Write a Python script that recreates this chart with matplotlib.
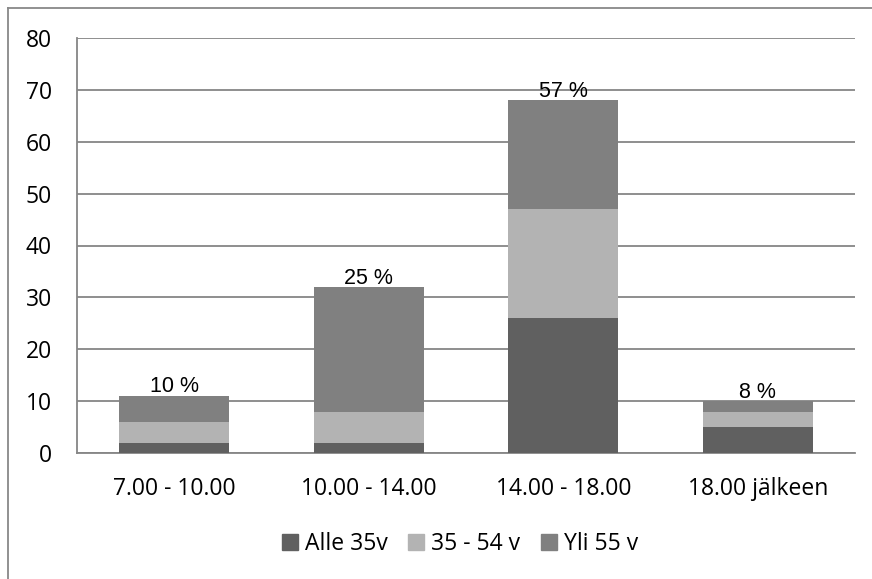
import numpy as np
import matplotlib.pyplot as plt
from matplotlib.patches import Patch
from matplotlib.lines import Line2D

categories = ['7.00 - 10.00', '10.00 - 14.00', '14.00 - 18.00', '18.00 jälkeen']
series_names = ['Alle 35v', '35 - 54 v', 'Yli 55 v']
alle_35 = [2, 2, 26, 5]
v35_54 = [4, 6, 21, 3]
yli_55 = [5, 24, 21, 2]
share_labels = ['10 %', '25 %', '57 %', '8 %']

colors = ['#606060', '#b3b3b3', '#808080']
grid_color = '#868686'
tick_font = 'Open Sans'

fig = plt.figure(figsize=(8.72, 5.79), dpi=100)
ax = fig.add_axes([77 / 872, 1 - 453 / 579, 778 / 872, 415 / 579])

x = np.arange(len(categories))
bottom = np.zeros(len(categories))
for vals, name, col in zip([alle_35, v35_54, yli_55], series_names, colors):
    ax.bar(x, vals, width=0.565, bottom=bottom, color=col, label=name, zorder=3)
    bottom += np.array(vals)

# share of total above each bar
for xi, total, lab in zip(x, bottom, share_labels):
    ax.text(xi, total - 0.3, lab, ha='center', va='bottom', fontsize=15.5,
            family='Liberation Sans', zorder=4)

ax.set_xlim(-0.5, len(categories) - 0.5)
ax.set_ylim(0, 80)
ax.set_yticks(range(0, 81, 10))
ax.set_xticks(x)
ax.set_xticklabels(categories)
ax.grid(axis='y', color=grid_color, linewidth=1.3, zorder=0)
for s in ['top', 'right']:
    ax.spines[s].set_visible(False)
for s in ['left', 'bottom']:
    ax.spines[s].set_color(grid_color)
    ax.spines[s].set_linewidth(1.3)
ax.tick_params(axis='both', length=0, labelsize=16.5)
ax.tick_params(axis='y', pad=18)
ax.tick_params(axis='x', pad=17)
for t in ax.get_xticklabels() + ax.get_yticklabels():
    t.set_family(tick_font)

handles = [Patch(color=c) for c in colors]
fig.legend(handles, series_names, loc='center', bbox_to_anchor=(460 / 872, 1 - 544 / 579),
           ncol=3, frameon=False, prop={'family': tick_font, 'size': 16.5},
           handlelength=0.7, handleheight=0.7, handletextpad=0.3, columnspacing=0.9)

# chart border
fig.add_artist(Line2D([8 / 872, 1], [1 - 8 / 579] * 2, color='#888888', linewidth=1.3))
fig.add_artist(Line2D([8 / 872] * 2, [0, 1 - 8 / 579], color='#888888', linewidth=1.3))

fig.savefig('out.png', dpi=100)
